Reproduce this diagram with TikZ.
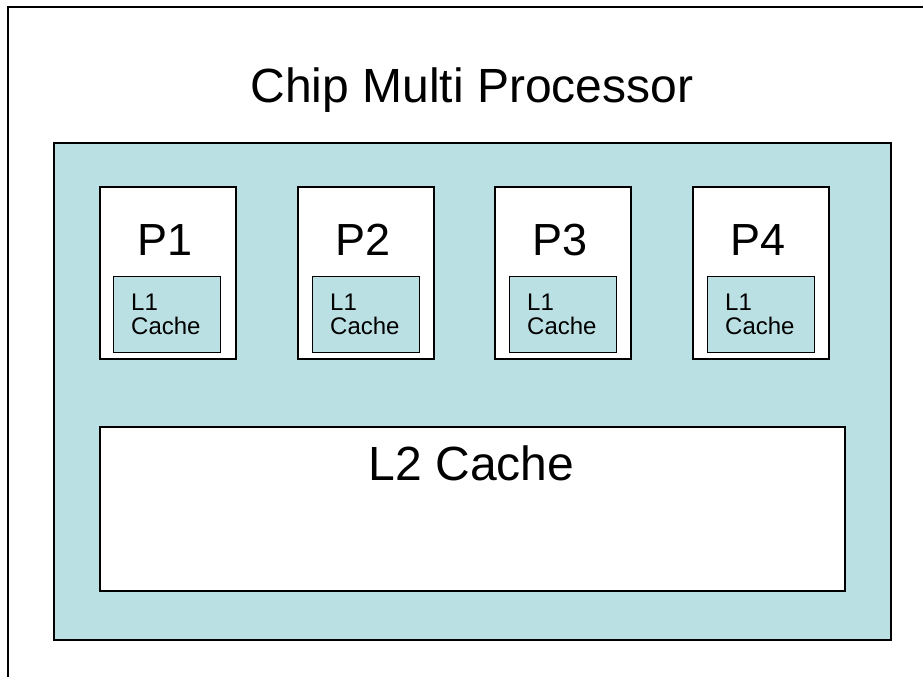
\documentclass[tikz,border=0pt]{standalone}
\usepackage{fontspec}
\setmainfont{Liberation Sans}
\definecolor{cmpcyan}{HTML}{BBE0E3}
\begin{document}
\begin{tikzpicture}[x=1pt,y=-1pt,
  box/.style={draw=black,line width=1.6pt,inner sep=0pt,anchor=north west},
  cyanbox/.style={box,fill=cmpcyan},
  whitebox/.style={box,fill=white},
  lonebox/.style={draw=black,line width=1.2pt,fill=cmpcyan,inner sep=0pt,anchor=north west,minimum width=107pt,minimum height=76pt},
  bigtext/.style={font=\fontsize{48}{52}\selectfont,inner sep=0pt,anchor=base},
  ptext/.style={font=\fontsize{45}{50}\selectfont,inner sep=0pt,anchor=base},
  smalltext/.style={font=\fontsize{24}{24}\selectfont,inner sep=0pt,anchor=base west,align=left}]
\useasboundingbox (0,0) rectangle (923,677);
\fill[white] (0,0) rectangle (923,677);
% outer frame
\coordinate (fa) at (8,677);
\coordinate (fb) at (8,7);
\coordinate (fc) at (923,7);
\draw[line width=2pt] (fa) -- (fb) -- (fc);
% title
\node[bigtext] (title) at (472,102) {Chip Multi Processor};
% chip box
\node[cyanbox,minimum width=837pt,minimum height=497pt] (cmp) at (53,142) {};
% processors
\foreach \i/\x/\lx in {1/99/113,2/297/312,3/494/509,4/692/707}{
  \node[whitebox,minimum width=136pt,minimum height=172pt] (p\i) at (\x,186) {};
  \node[ptext] (pl\i) at (\x+66,255) {P\i};
  \node[lonebox] (l\i) at (\lx,276) {};
  \node[smalltext] (lt\i) at (\lx+18,334) {L1\\Cache};
}
% L2 cache
\node[whitebox,minimum width=745pt,minimum height=164pt] (l2) at (99,426) {};
\node[bigtext] (l2t) at (471.5,480) {L2 Cache};
\end{tikzpicture}
\end{document}
